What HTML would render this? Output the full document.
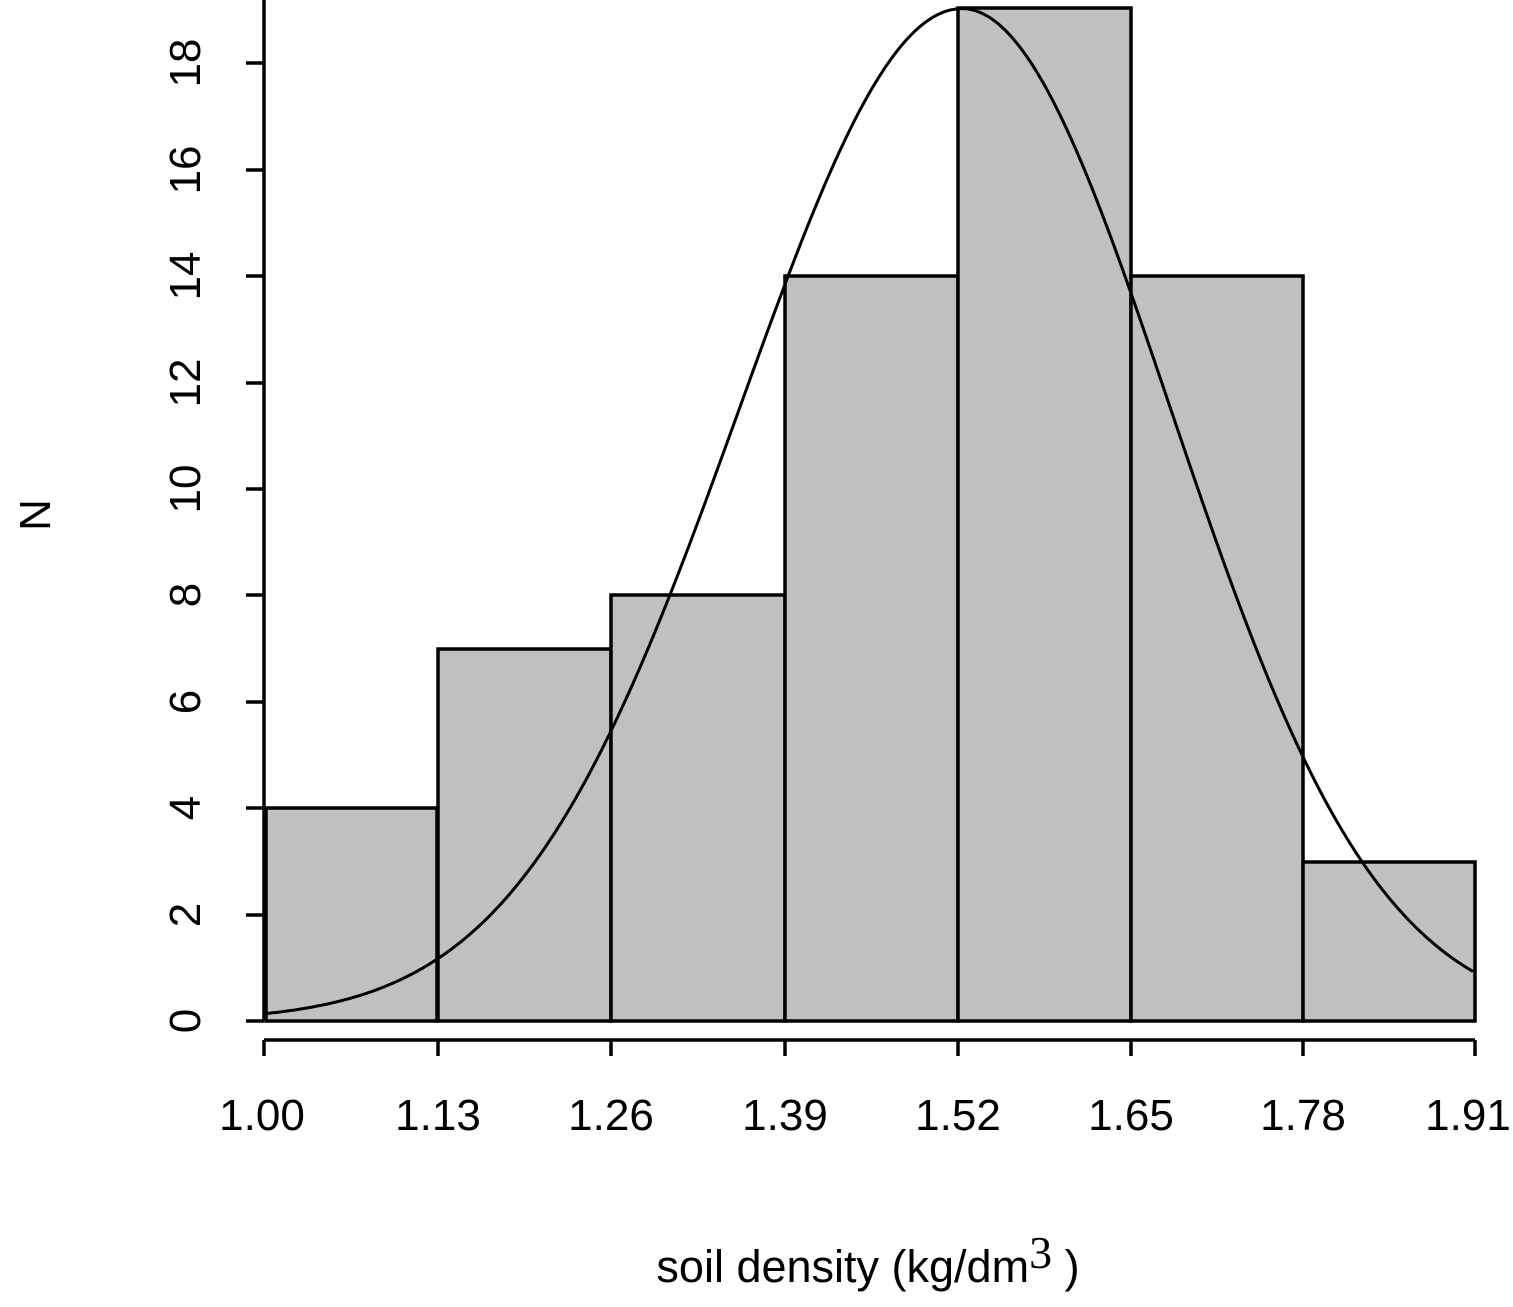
<!DOCTYPE html>
<html><head><meta charset="utf-8"><style>
html,body{margin:0;padding:0;background:#fff;}
svg{display:block;}
text{font-family:"Liberation Sans",sans-serif;fill:#000;}
</style></head><body>
<svg id="s" width="1513" height="1307" viewBox="0 0 1513 1307" xmlns="http://www.w3.org/2000/svg">
<rect width="1513" height="1307" fill="#fff"/>
<g fill="#c0c0c0" stroke="#000" stroke-width="3.5">
<rect x="266" y="808" width="171" height="213"/>
<rect x="438" y="649" width="173" height="372"/>
<rect x="611" y="595" width="174" height="426"/>
<rect x="785" y="276" width="173" height="745"/>
<rect x="958" y="8" width="173" height="1013"/>
<rect x="1131" y="276" width="172" height="745"/>
<rect x="1303" y="862" width="172" height="159"/>
</g>
<path id="curve" fill="none" stroke="#000" stroke-width="3" d=""/>
<g stroke="#000" stroke-width="3.5">
<line x1="264" y1="0" x2="264" y2="1021"/>
<line x1="246" y1="1021" x2="264" y2="1021"/>
<line x1="246" y1="915" x2="264" y2="915"/>
<line x1="246" y1="808" x2="264" y2="808"/>
<line x1="246" y1="702" x2="264" y2="702"/>
<line x1="246" y1="595" x2="264" y2="595"/>
<line x1="246" y1="489" x2="264" y2="489"/>
<line x1="246" y1="383" x2="264" y2="383"/>
<line x1="246" y1="276" x2="264" y2="276"/>
<line x1="246" y1="170" x2="264" y2="170"/>
<line x1="246" y1="63" x2="264" y2="63"/>
<line x1="264" y1="1040" x2="1475" y2="1040"/>
<line x1="264" y1="1040" x2="264" y2="1056"/>
<line x1="438" y1="1040" x2="438" y2="1056"/>
<line x1="611" y1="1040" x2="611" y2="1056"/>
<line x1="785" y1="1040" x2="785" y2="1056"/>
<line x1="958" y1="1040" x2="958" y2="1056"/>
<line x1="1131" y1="1040" x2="1131" y2="1056"/>
<line x1="1303" y1="1040" x2="1303" y2="1056"/>
<line x1="1475" y1="1040" x2="1475" y2="1056"/>
</g>
<g font-size="44" text-anchor="middle">
<text transform="translate(200,1021) rotate(-90)">0</text>
<text transform="translate(200,915) rotate(-90)">2</text>
<text transform="translate(200,808) rotate(-90)">4</text>
<text transform="translate(200,702) rotate(-90)">6</text>
<text transform="translate(200,595) rotate(-90)">8</text>
<text transform="translate(200,489) rotate(-90)">10</text>
<text transform="translate(200,383) rotate(-90)">12</text>
<text transform="translate(200,276) rotate(-90)">14</text>
<text transform="translate(200,170) rotate(-90)">16</text>
<text transform="translate(200,63) rotate(-90)">18</text>
<text transform="translate(50,515) rotate(-90)">N</text>
<text x="262" y="1130">1.00</text>
<text x="438" y="1130">1.13</text>
<text x="611" y="1130">1.26</text>
<text x="785" y="1130">1.39</text>
<text x="958" y="1130">1.52</text>
<text x="1131" y="1130">1.65</text>
<text x="1303" y="1130">1.78</text>
<text x="1468" y="1130">1.91</text>
<text x="868" y="1282" font-size="45">soil density (kg/dm<tspan font-family="Liberation Serif" font-size="46" dy="-14">3</tspan><tspan dy="14"> )</tspan></text>
</g>
</svg>
<script>
(function(){
var d="";
for(var x=264;x<=1475;x+=3){var s=x<962?222:208;var v=19.03*Math.exp(-Math.pow((x-962)/s,2)/2);var y=1021-v*53.2;d+=(x==264?"M":"L")+x+","+y.toFixed(1);}
document.getElementById("curve").setAttribute("d",d);})();
</script>
</body></html>
